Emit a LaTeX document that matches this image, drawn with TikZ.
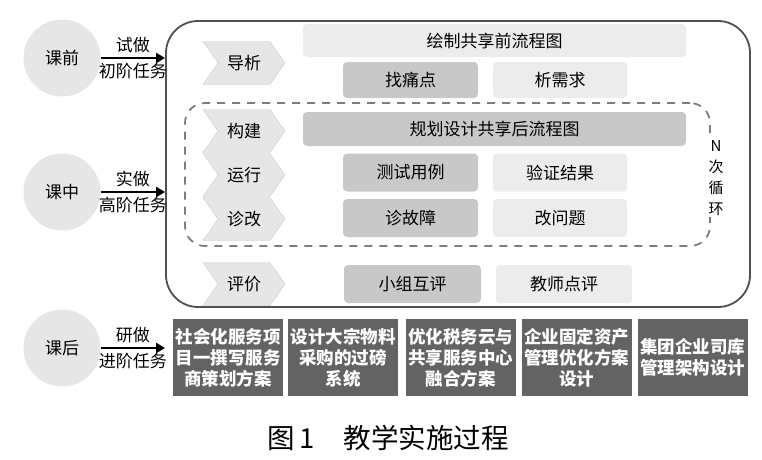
\documentclass[tikz,border=0pt]{standalone}
\usepackage{fontspec}
\setmainfont{Noto Sans CJK SC}
\usetikzlibrary{arrows.meta,shapes.symbols,calc}
\definecolor{paleg}{RGB}{230,230,230}
\definecolor{lightg}{RGB}{236,236,236}
\definecolor{midg}{RGB}{200,200,200}
\definecolor{darkg}{RGB}{99,99,99}
\definecolor{frameg}{RGB}{80,80,80}
\definecolor{dashg}{RGB}{125,125,125}
\newcommand{\txt}{\fontsize{17}{19}\selectfont}
\tikzset{
  stage/.style={circle,fill=paleg,minimum size=77pt,inner sep=0pt,font=\txt},
  chevron/.style={signal,signal to=east,signal from=west,signal pointer angle=110,
    fill=paleg,draw=black!20,minimum width=82pt,minimum height=43pt,inner sep=0pt,font=\txt},
  cell/.style={rounded corners=4pt,minimum height=36pt,inner sep=0pt,font=\txt},
  darkcell/.style={cell,fill=midg},
  lightcell/.style={cell,fill=lightg},
  task/.style={fill=darkg,text=white,font=\bfseries\fontsize{17.5}{21}\selectfont,
    minimum width=110pt,minimum height=77pt,inner sep=0pt,align=center},
  go/.style={-{Triangle[length=9pt,width=10pt]},line width=2.6pt},
}

\begin{document}
\begin{tikzpicture}[x=1pt,y=-1pt]
  \useasboundingbox (0,0) rectangle (762,459);
  % outer frame and loop frame
  \node[draw=frameg,line width=1.8pt,rounded corners=32pt,minimum width=584pt,minimum height=286pt] (frame) at (458,164) {};
  \node[draw=dashg,line width=1.8pt,dash pattern=on 8pt off 7pt,rounded corners=20pt,minimum width=525pt,minimum height=143pt] (loopbox) at (447.5,174.5) {};
  \node[fill=white,inner sep=1pt,align=center,font=\fontsize{15}{21}\selectfont] (loop) at (716,178) {N\\次\\循\\环};

  % stages
  \node[stage] (pre) at (62,58) {课前};
  \node[stage] (mid) at (62,192) {课中};
  \node[stage] (post) at (62,348) {课后};
  \draw[go] (pre.east) -- (pre.east -| frame.west) node[midway,above,font=\txt]{试做} node[midway,below,font=\txt]{初阶任务};
  \draw[go] (mid.east) -- (mid.east -| frame.west) node[midway,above,font=\txt]{实做} node[midway,below,font=\txt]{高阶任务};
  \draw[go] (post.east) -- (post.east -| frame.west) node[midway,above,font=\txt]{研做} node[midway,below,font=\txt]{进阶任务};

  % steps
  \node[chevron] (guide) at (244,63) {导析};
  \node[chevron] (build) at (244,131) {构建};
  \node[chevron] (run) at (244,175) {运行};
  \node[chevron] (fix) at (244,219) {诊改};
  \node[chevron] (review) at (244,284) {评价};

  \node[lightcell,minimum width=383pt,minimum height=33pt] (before) at (494.5,40.5) {绘制共享前流程图};
  \node[darkcell,minimum width=135pt] (pain) at (410.5,80) {找痛点};
  \node[lightcell,minimum width=134pt] (need) at (560,80) {析需求};
  \node[darkcell,minimum width=383pt,minimum height=34pt] (after) at (494.5,129) {规划设计共享后流程图};
  \node[darkcell,minimum width=135pt,minimum height=38pt] (test) at (410.5,172.5) {测试用例};
  \node[lightcell,minimum width=134pt,minimum height=38pt] (check) at (560,172.5) {验证结果};
  \node[darkcell,minimum width=135pt,minimum height=38pt] (fault) at (410.5,218) {诊故障};
  \node[lightcell,minimum width=134pt,minimum height=38pt] (issue) at (560,218) {改问题};
  \node[darkcell,minimum width=137pt,minimum height=38pt] (peer) at (412.5,284) {小组互评};
  \node[lightcell,minimum width=136pt,minimum height=38pt] (teacher) at (564,284) {教师点评};

  % tasks
  \node[task] (t1) at (228,357.5) {社会化服务项\\目一撰写服务\\商策划方案};
  \node[task] (t2) at (343,357.5) {设计大宗物料\\采购的过磅\\系统};
  \node[task] (t3) at (460.5,357.5) {优化税务云与\\共享服务中心\\融合方案};
  \node[task] (t4) at (576.5,357.5) {企业固定资产\\管理优化方案\\设计};
  \node[task] (t5) at (692.5,357.5) {集团企业司库\\管理架构设计};

  \node[font=\fontsize{27.5}{30}\selectfont] (caption) at (388,438) {图\,1\hspace{1.05em}教学实施过程};
\end{tikzpicture}
\end{document}
